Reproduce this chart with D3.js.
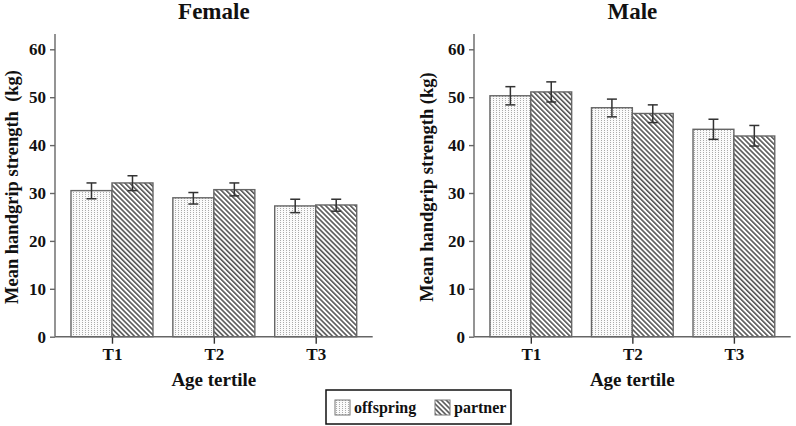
<!DOCTYPE html>
<html>
<head>
<meta charset="utf-8">
<script src="https://cdn.jsdelivr.net/npm/d3@7"></script>
<style>
  body { margin: 0; background: #fff; }
</style>
</head>
<body>
<svg id="chart" width="796" height="426"></svg>
<script>
// data
let tertiles = ["T1", "T2", "T3"]
let groups = ["offspring", "partner"]
let yTicks = [0, 10, 20, 30, 40, 50, 60]

let femaleMean = { offspring: [30.5, 29.0, 27.3], partner: [32.1, 30.7, 27.5] }
let femaleLow  = { offspring: [28.8, 27.7, 25.9], partner: [30.5, 29.4, 26.2] }
let femaleHigh = { offspring: [32.1, 30.1, 28.7], partner: [33.6, 32.1, 28.7] }

let maleMean = { offspring: [50.3, 47.8, 43.3], partner: [51.1, 46.6, 41.9] }
let maleLow  = { offspring: [48.4, 45.9, 41.2], partner: [49.0, 44.7, 39.8] }
let maleHigh = { offspring: [52.2, 49.6, 45.4], partner: [53.2, 48.4, 44.1] }

let serif = "'Liberation Serif', 'DejaVu Serif', serif"

let svg = d3.select("#chart")
let defs = svg.append("defs")

// dotted fill for offspring
let dots = defs.append("pattern")
    .attr("id", "dots")
    .attr("patternUnits", "userSpaceOnUse")
    .attr("width", 3).attr("height", 2)
dots.append("rect").attr("width", 3).attr("height", 2).attr("fill", "#fafafa")
dots.append("rect").attr("x", 1).attr("y", 0).attr("width", 1).attr("height", 1).attr("fill", "#aaa")

// diagonal hatch for partner
let hatch = defs.append("pattern")
    .attr("id", "hatch")
    .attr("patternUnits", "userSpaceOnUse")
    .attr("width", 3.5).attr("height", 3.5)
    .attr("patternTransform", "rotate(-45)")
hatch.append("rect").attr("width", 3.5).attr("height", 3.5).attr("fill", "#fff")
hatch.append("rect").attr("x", 0).attr("y", 0).attr("width", 1.6).attr("height", 3.5).attr("fill", "#555")

let fills = { offspring: "url(#dots)", partner: "url(#hatch)" }

let plotTop = 34, plotBottom = 336.7

let y = d3.scaleLinear().domain([0, 60]).range([plotBottom, 49.3])

function label(sel, size) {
    return sel.attr("font-family", serif)
        .attr("font-weight", "bold")
        .attr("font-size", size)
        .attr("fill", "#111")
}

function panel(title, x0, x1, mean, low, high, doubleSpace) {
    let g = svg.append("g")

    let x = d3.scaleBand().domain(tertiles).range([x0, x1])
        .paddingInner(0.195).paddingOuter(0.157)
    let xs = d3.scaleBand().domain(groups).range([0, x.bandwidth()])

    let rows = []
    tertiles.forEach((t, i) => {
        groups.forEach(k => {
            rows.push({ t: t, k: k, v: mean[k][i], lo: low[k][i], hi: high[k][i] })
        })
    })

    g.selectAll("rect.bar")
        .data(rows)
        .enter()
        .append("rect")
        .attr("class", "bar")
        .attr("x", d => x(d.t) + xs(d.k))
        .attr("y", d => y(d.v))
        .attr("width", xs.bandwidth())
        .attr("height", d => y(0) - y(d.v))
        .attr("fill", d => fills[d.k])
        .attr("stroke", "#666")
        .attr("stroke-width", 1.4)

    let err = g.selectAll("g.err")
        .data(rows)
        .enter()
        .append("g")
        .attr("class", "err")
        .attr("stroke", "#333")
        .attr("stroke-width", 1.5)
    let cx = d => x(d.t) + xs(d.k) + xs.bandwidth() / 2
    err.append("line")
        .attr("x1", cx).attr("x2", cx)
        .attr("y1", d => y(d.lo)).attr("y2", d => y(d.hi))
    err.append("line")
        .attr("x1", d => cx(d) - 5).attr("x2", d => cx(d) + 5)
        .attr("y1", d => y(d.hi)).attr("y2", d => y(d.hi))
    err.append("line")
        .attr("x1", d => cx(d) - 5).attr("x2", d => cx(d) + 5)
        .attr("y1", d => y(d.lo)).attr("y2", d => y(d.lo))

    // y axis
    let yAxis = g.append("g")
        .attr("transform", `translate(${x0},0)`)
        .call(d3.axisLeft(y).tickValues(yTicks).tickSize(5).tickPadding(4))
    yAxis.select(".domain").remove()
    yAxis.selectAll("line").attr("stroke", "#666").attr("stroke-width", 1.4)
    label(yAxis.selectAll("text"), 17)
    g.append("line")
        .attr("x1", x0).attr("x2", x0)
        .attr("y1", plotTop).attr("y2", plotBottom)
        .attr("stroke", "#666").attr("stroke-width", 1.4)

    // x axis
    let xCenter = d3.scalePoint().domain(tertiles)
        .range([x(tertiles[0]) + x.bandwidth() / 2, x(tertiles[2]) + x.bandwidth() / 2])
    let xAxis = g.append("g")
        .attr("transform", `translate(0,${plotBottom})`)
        .call(d3.axisBottom(xCenter).tickSize(7).tickPadding(4))
    xAxis.select(".domain").remove()
    xAxis.selectAll("line").attr("stroke", "#333").attr("stroke-width", 1.4)
    label(xAxis.selectAll("text"), 17)
    g.append("line")
        .attr("x1", x0).attr("x2", x1)
        .attr("y1", plotBottom).attr("y2", plotBottom)
        .attr("stroke", "#666").attr("stroke-width", 1.4)

    let mid = (x0 + x1) / 2
    label(g.append("text"), 23)
        .attr("x", mid).attr("y", 19)
        .attr("text-anchor", "middle")
        .text(title)
    label(g.append("text"), 19)
        .attr("x", mid).attr("y", 386)
        .attr("text-anchor", "middle")
        .text("Age tertile")
    label(g.append("text"), 18.5)
        .attr("transform", `translate(${Math.max(x0 - 41, 18)},187) rotate(-90)`)
        .attr("text-anchor", "middle")
        .style("white-space", "pre")
        .text(doubleSpace ? "Mean handgrip strength\u00a0 (kg)" : "Mean handgrip strength (kg)")
}

panel("Female", 55, 372.7, femaleMean, femaleLow, femaleHigh, true)
panel("Male", 474, 790.7, maleMean, maleLow, maleHigh, false)

// legend
let legend = svg.append("g")
legend.append("rect")
    .attr("x", 326).attr("y", 390)
    .attr("width", 185).attr("height", 34)
    .attr("fill", "#fff").attr("stroke", "#111").attr("stroke-width", 1.5)
let legendX = d3.scaleOrdinal().domain(groups).range([335, 435])
let items = legend.selectAll("g.item")
    .data(groups)
    .enter()
    .append("g")
    .attr("class", "item")
    .attr("transform", d => `translate(${legendX(d)},400)`)
items.append("rect")
    .attr("width", 15).attr("height", 15)
    .attr("fill", d => fills[d])
    .attr("stroke", "#777").attr("stroke-width", 1)
label(items.append("text"), 16)
    .attr("x", 19).attr("y", 12.5)
    .text(d => d)
</script>
</body>
</html>
